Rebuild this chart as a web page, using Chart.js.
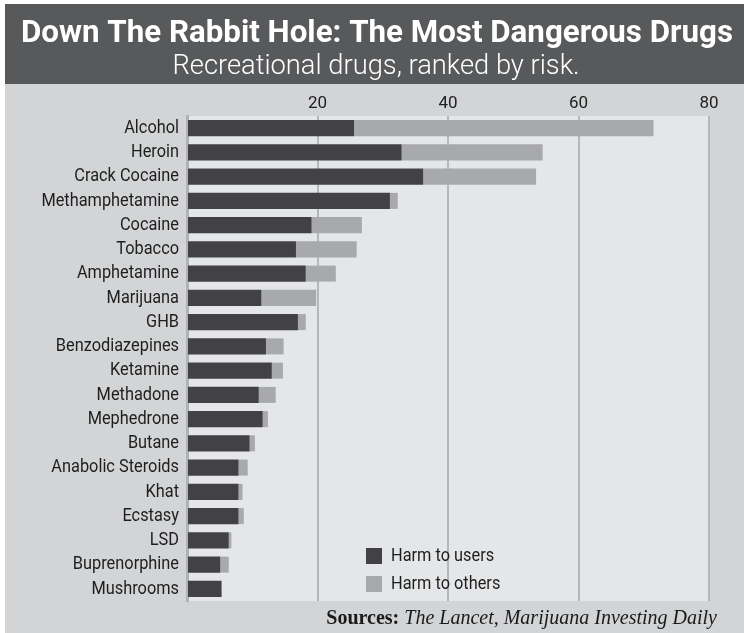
<!DOCTYPE html>
<html>
<head>
<meta charset="utf-8">
<title>Down The Rabbit Hole: The Most Dangerous Drugs</title>
<script src="https://cdn.jsdelivr.net/npm/chart.js@4.4.1/dist/chart.umd.min.js"></script>
<style>
  html, body { margin: 0; padding: 0; background: #fff; }
  #wrap { position: relative; width: 744px; height: 633px; }
</style>
</head>
<body>
<div id="wrap"><canvas id="drugs-chart" width="744" height="633"></canvas></div>
<script>
// harm scores (0-100 scale), split into harm to users / harm to others
var drugs = ["Alcohol", "Heroin", "Crack Cocaine", "Methamphetamine", "Cocaine", "Tobacco",
  "Amphetamine", "Marijuana", "GHB", "Benzodiazepines", "Ketamine", "Methadone",
  "Mephedrone", "Butane", "Anabolic Steroids", "Khat", "Ecstasy", "LSD",
  "Buprenorphine", "Mushrooms"];
var harmToUsers = [25.6, 32.9, 36.2, 31.1, 19.1, 16.7, 18.2, 11.4, 17.0, 12.1,
  13.0, 11.0, 11.6, 9.6, 7.9, 7.9, 7.9, 6.4, 5.1, 5.3];
var harmToOthers = [45.9, 21.6, 17.3, 1.2, 7.7, 9.3, 4.6, 8.4, 1.2, 2.7,
  1.7, 2.6, 0.8, 0.8, 1.4, 0.6, 0.8, 0.4, 1.3, 0];
var xTicks = [20, 40, 60, 80];

var titleText = "Down The Rabbit Hole: The Most Dangerous Drugs";
var subtitleText = "Recreational drugs, ranked by risk.";
var sourceLabel = "Sources:";
var sourceText = "The Lancet, Marijuana Investing Daily";

var DARK = "#424244";
var LIGHT = "#a8a9ab";
var SANS = "Roboto, sans-serif";
var NARROW = 0.86; // horizontal squeeze for the condensed-looking labels

// shrink/grow a font so the string spans a given width
function fitFont(ctx, text, weight, family, width) {
  ctx.font = weight + " 20px " + family;
  var size = 20 * width / ctx.measureText(text).width;
  return weight + " " + size.toFixed(1) + "px " + family;
}

// draw text squeezed horizontally around its anchor x
function squeezedText(ctx, text, x, y, k) {
  ctx.save();
  ctx.translate(x, y);
  ctx.scale(k, 1);
  ctx.fillText(text, 0, 0);
  ctx.restore();
}

var frame = {
  id: "frame",
  afterLayout: function(chart) {
    // y labels are right aligned at one x, so squeeze them around it
    var s = chart.scales.y;
    if (s._squeezed) return;
    var drawLabels = s.drawLabels;
    s.drawLabels = function(area) {
      var ctx = this.ctx, x = this.right - this.options.ticks.padding;
      ctx.save();
      ctx.translate(x, 0);
      ctx.scale(NARROW, 1);
      ctx.translate(-x, 0);
      drawLabels.call(this, area);
      ctx.restore();
    };
    s._squeezed = true;
  },
  beforeDraw: function(chart) {
    var ctx = chart.ctx, a = chart.chartArea;
    ctx.save();
    ctx.fillStyle = "#d3d4d6";
    ctx.fillRect(5, 4, chart.width - 5, chart.height - 4);
    ctx.fillStyle = "#58595b";
    ctx.fillRect(5, 4, chart.width - 5, 80);
    ctx.fillStyle = "#e5e6e8";
    ctx.fillRect(a.left, a.top, a.right - a.left, a.bottom - a.top);

    ctx.fillStyle = "#ffffff";
    ctx.textAlign = "center";
    ctx.textBaseline = "alphabetic";
    ctx.font = fitFont(ctx, titleText, "bold", SANS, 713);
    ctx.fillText(titleText, 377, 42);
    ctx.font = fitFont(ctx, subtitleText, "300", SANS, 407);
    ctx.fillText(subtitleText, 376, 74);
    ctx.restore();
  },
  afterDraw: function(chart) {
    var ctx = chart.ctx, a = chart.chartArea;
    ctx.save();

    // legend, bottom of the plot
    var lx = a.left + 179, ly = a.bottom - 53;
    ctx.font = "19px " + SANS;
    ctx.textBaseline = "middle";
    ctx.textAlign = "left";
    chart.data.datasets.forEach(function(ds, i) {
      ctx.fillStyle = ds.backgroundColor;
      ctx.fillRect(lx, ly + i * 28, 16, 16);
      ctx.fillStyle = "#1e1e1e";
      squeezedText(ctx, ds.label, lx + 25, ly + i * 28 + 8.5, NARROW);
    });

    // sources line
    ctx.textBaseline = "alphabetic";
    ctx.textAlign = "right";
    ctx.fillStyle = "#1a1a1a";
    ctx.font = "italic 20px 'Liberation Serif', serif";
    var right = 717;
    ctx.fillText(sourceText, right, 624);
    var w = ctx.measureText(sourceText).width;
    ctx.font = "bold 20px 'Liberation Serif', serif";
    ctx.fillText(sourceLabel, right - w - 5, 624);
    ctx.restore();
  }
};

var drugsChart = new Chart(document.getElementById("drugs-chart"), {
  type: "bar",
  data: {
    labels: drugs,
    datasets: [
      { label: "Harm to users", data: harmToUsers, backgroundColor: DARK },
      { label: "Harm to others", data: harmToOthers, backgroundColor: LIGHT }
    ]
  },
  options: {
    indexAxis: "y",
    responsive: false,
    animation: false,
    layout: { padding: { left: 5, right: 35, top: 84, bottom: 32 } },
    datasets: { bar: { categoryPercentage: 1, barPercentage: 0.66 } },
    plugins: { legend: { display: false }, tooltip: { enabled: false } },
    scales: {
      x: {
        position: "top",
        stacked: true,
        min: 0,
        max: 80,
        afterBuildTicks: function(scale) {
          scale.ticks = [0].concat(xTicks).map(function(v) { return { value: v }; });
        },
        afterFit: function(scale) { scale.height = 32; },
        ticks: {
          color: "#1e1e1e",
          padding: 2,
          font: { family: SANS, size: 17 },
          callback: function(v) { return v === 0 ? "" : v; }
        },
        grid: {
          drawTicks: false,
          lineWidth: 2,
          color: function(c) { return c.tick && c.tick.value === 0 ? "rgba(0,0,0,0)" : "#b6b7b9"; }
        },
        border: { display: false }
      },
      y: {
        stacked: true,
        afterFit: function(scale) { scale.width = 182; },
        ticks: {
          color: "#1e1e1e",
          padding: 8,
          autoSkip: false,
          font: { family: SANS, size: 19 }
        },
        grid: { drawTicks: false, color: "rgba(0,0,0,0)" },
        border: { display: true, color: "#b1b2b4", width: 3 }
      }
    }
  },
  plugins: [frame]
});
</script>
</body>
</html>
